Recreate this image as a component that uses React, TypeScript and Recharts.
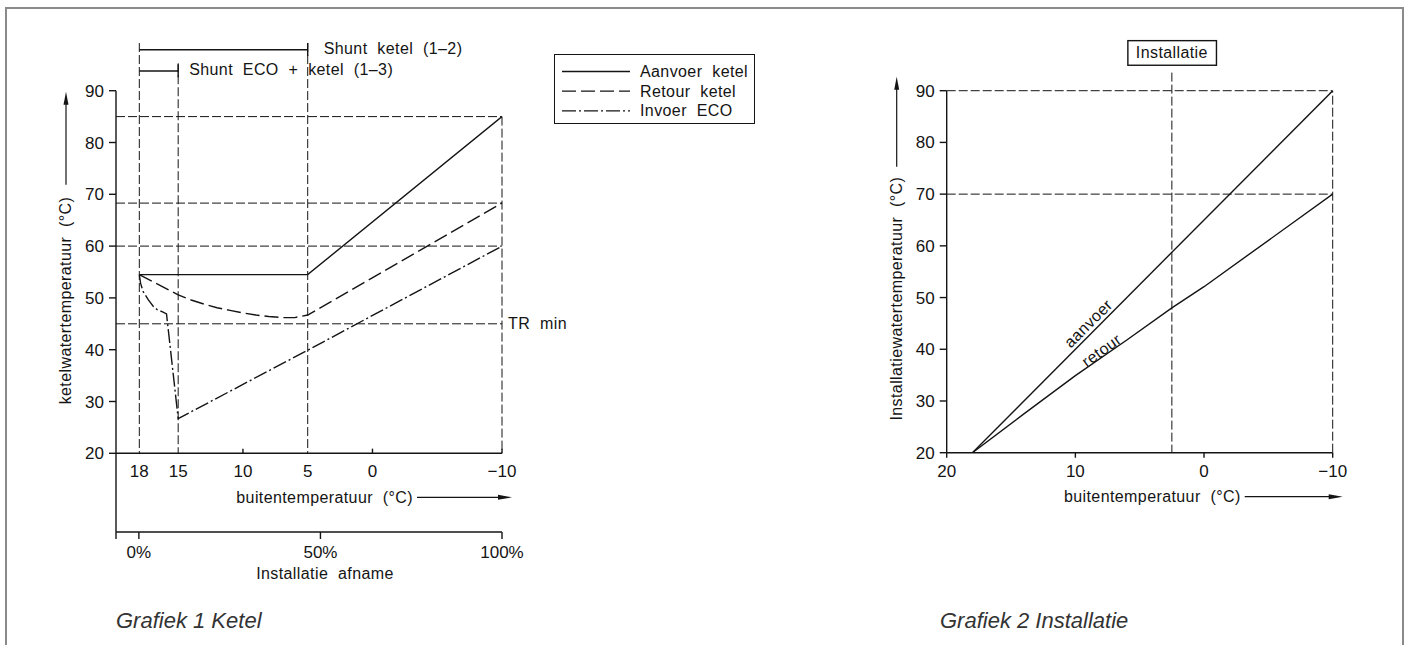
import React from 'react'
import { Legend, Line, LineChart, ReferenceDot, ReferenceLine, XAxis, YAxis } from 'recharts'

const FONT = '"Liberation Sans", Arial, sans-serif'
const INK = '#141414'
const DASH_REF = '9 3'
const DASH_RETOUR = '14 5'
const DASH_ECO = '14 3 2 3'

// ---- Grafiek 1: ketel ----
const KETEL_TEMP_TICKS = [18, 15, 10, 5, 0, -10]
const KETEL_TEMP_DOMAIN = [-10, 19.8]
const AFNAME_TICKS = [-6.3, 0, 50, 100]
const AFNAME_DOMAIN = [-6.3, 100]
const AFNAME_RANGE = [
  { p: 0, v: 20 },
  { p: 100, v: 20 },
]
const Y_TICKS = [20, 30, 40, 50, 60, 70, 80, 90]
const Y_DOMAIN = [20, 90]

const AANVOER_KETEL = [
  { t: 18, v: 54.5 },
  { t: 5, v: 54.5 },
  { t: -10, v: 85 },
]
const RETOUR_KETEL = [
  { t: 18, v: 54.5 },
  { t: 17, v: 53.2 },
  { t: 16, v: 51.9 },
  { t: 15, v: 50.6 },
  { t: 14, v: 49.6 },
  { t: 13, v: 48.8 },
  { t: 12, v: 48.1 },
  { t: 11, v: 47.6 },
  { t: 10, v: 47.1 },
  { t: 9, v: 46.7 },
  { t: 8, v: 46.4 },
  { t: 7, v: 46.2 },
  { t: 6, v: 46.2 },
  { t: 5, v: 46.7 },
  { t: -10, v: 68.3 },
]
const INVOER_ECO = [
  { t: 18, v: 54.5 },
  { t: 17.9, v: 52.8 },
  { t: 17.7, v: 51.2 },
  { t: 17.3, v: 49.6 },
  { t: 16.9, v: 48.3 },
  { t: 16.6, v: 47.7 },
  { t: 16.2, v: 47.3 },
  { t: 15.9, v: 46.9 },
  { t: 15, v: 26.7 },
  { t: 5, v: 39.9 },
  { t: -10, v: 60 },
]
const KETEL_LEVELS = [85, 68.3, 60]
const TR_MIN = 45
// vertical guides: temperature and the value where the dashed line starts
const KETEL_GUIDES = [
  { t: 18, top: 99.2 },
  { t: 15, top: 95.3 },
  { t: 5, top: 99.2 },
  { t: -10, top: 85 },
]
const SMALL_TICKS = [10, 0, -10]
const SHUNT_KETEL = { from: 18, to: 5, v: 97.9, label: 'Shunt ketel (1–2)' }
const SHUNT_ECO = { from: 18, to: 15, v: 93.8, label: 'Shunt ECO + ketel (1–3)' }
const AXIS_FLOOR = 4.8

const LEGEND_1 = [
  { name: 'Aanvoer ketel', dash: undefined },
  { name: 'Retour ketel', dash: DASH_RETOUR },
  { name: 'Invoer ECO', dash: DASH_ECO },
]

// ---- Grafiek 2: installatie ----
const INST_TEMP_TICKS = [20, 10, 0, -10]
const INST_TEMP_DOMAIN = [-10, 20]
const AANVOER_INST = [
  { t: 18, v: 20 },
  { t: -10, v: 90 },
]
const RETOUR_INST = [
  { t: 18, v: 20 },
  { t: 14, v: 27.5 },
  { t: 10, v: 34.9 },
  { t: 6, v: 41.8 },
  { t: 2.5, v: 48.0 },
  { t: 0, v: 52.1 },
  { t: -10, v: 70 },
]
const INST_LEVELS = [90, 70]
const INST_DESIGN = { t: 2.5, top: 93.5, box: 97.3, label: 'Installatie' }
const LINE_TAGS = [
  { t: 9.0, v: 45.0, angle: -45, text: 'aanvoer' },
  { t: 7.96, v: 39.8, angle: -35.7, text: 'retour' },
]

const fmtTemp = (v: number) => (v < 0 ? `−${-v}` : `${v}`)
const tickStyle = { fontSize: 17, fill: INK, fontFamily: FONT }
const textProps = { fill: INK, fontFamily: FONT, fontSize: 16, letterSpacing: 0.4, wordSpacing: 5 }

function xTitle(text: string, endFromRight: number, arrowPast: number) {
  return (props: any) => {
    const vb = props.viewBox || {}
    const right = vb.x + vb.width
    const y = vb.y + 44
    const tx = right - endFromRight
    const tip = right + arrowPast
    return (
      <g>
        <text x={tx} y={y} textAnchor="end" dominantBaseline="central" {...textProps}>
          {text}
        </text>
        <line x1={tx + 4} y1={y} x2={tip - 12} y2={y} stroke={INK} strokeWidth={1.2} />
        <polygon points={`${tip},${y} ${tip - 14},${y - 2.5} ${tip - 14},${y + 2.5}`} fill={INK} />
      </g>
    )
  }
}

function yTitle(text: string, tipDy: number, tailDy: number, gap: number) {
  return (props: any) => {
    const vb = props.viewBox || {}
    const x = vb.x + 10
    const tip = vb.y + tipDy
    const tail = vb.y + tailDy
    const ty = tail + gap
    return (
      <g>
        <line x1={x} y1={tail} x2={x} y2={tip + 10} stroke={INK} strokeWidth={1.2} />
        <polygon points={`${x},${tip} ${x - 2.5},${tip + 13} ${x + 2.5},${tip + 13}`} fill={INK} />
        <text
          x={x}
          y={ty}
          transform={`rotate(-90 ${x} ${ty})`}
          textAnchor="end"
          dominantBaseline="central"
          {...textProps}
        >
          {text}
        </text>
      </g>
    )
  }
}

function sideText(text: string, dx: number) {
  return (props: any) => {
    const vb = props.viewBox || {}
    return (
      <text x={vb.x + dx} y={vb.y} dominantBaseline="central" {...textProps}>
        {text}
      </text>
    )
  }
}

function KetelLegend() {
  return (
    <div style={{ width: 201, height: 70, border: `1.5px solid ${INK}`, boxSizing: 'border-box', background: '#fff' }}>
      <svg width={198} height={67} style={{ display: 'block' }}>
        {LEGEND_1.map((e, i) => {
          const y = 16.5 + i * 19.7
          return (
            <g key={e.name}>
              <line x1={7} x2={75} y1={y} y2={y} stroke={INK} strokeWidth={1.3} strokeDasharray={e.dash} />
              <text x={85} y={y} dominantBaseline="central" {...textProps}>
                {e.name}
              </text>
            </g>
          )
        })}
      </svg>
    </div>
  )
}

function KetelChart() {
  return (
    <LineChart width={780} height={645} margin={{ top: 90.7, right: 278, bottom: 53, left: 56 }}>
      <XAxis
        xAxisId="b"
        type="number"
        dataKey="p"
        domain={AFNAME_DOMAIN}
        allowDataOverflow
        ticks={AFNAME_TICKS}
        tickFormatter={(v: number) => (v < 0 ? '' : `${v}%`)}
        tick={tickStyle}
        tickLine={{ stroke: INK, strokeWidth: 1.4 }}
        tickSize={7}
        tickMargin={7}
        axisLine={{ stroke: INK, strokeWidth: 1.4 }}
        height={60}
        label={(props: any) => {
          const vb = props.viewBox || {}
          return (
            <text x={vb.x + 209} y={vb.y + 41} textAnchor="middle" dominantBaseline="central" {...textProps}>
              Installatie afname
            </text>
          )
        }}
      />
      <XAxis
        xAxisId="a"
        type="number"
        dataKey="t"
        domain={KETEL_TEMP_DOMAIN}
        reversed
        allowDataOverflow
        ticks={KETEL_TEMP_TICKS}
        tickFormatter={fmtTemp}
        tick={tickStyle}
        tickLine={false}
        tickSize={5}
        tickMargin={7}
        axisLine={{ stroke: INK, strokeWidth: 1.4 }}
        height={78.7}
        label={xTitle('buitentemperatuur (°C)', 89, 10)}
      />
      <YAxis
        type="number"
        domain={Y_DOMAIN}
        allowDataOverflow
        ticks={Y_TICKS}
        tick={tickStyle}
        tickLine={{ stroke: INK, strokeWidth: 1.4 }}
        tickSize={7}
        tickMargin={5}
        axisLine={{ stroke: INK, strokeWidth: 1.4 }}
        width={60}
        label={yTitle('ketelwatertemperatuur (°C)', 1, 94, 12)}
      />
      <Line
        xAxisId="b"
        data={AFNAME_RANGE}
        dataKey="v"
        stroke="transparent"
        strokeWidth={0}
        dot={false}
        legendType="none"
        isAnimationActive={false}
      />
      <ReferenceLine
        xAxisId="a"
        segment={[{ x: KETEL_TEMP_DOMAIN[1], y: 20 }, { x: KETEL_TEMP_DOMAIN[1], y: AXIS_FLOOR }]}
        ifOverflow="visible"
        stroke={INK}
        strokeWidth={1.4}
      />
      {KETEL_LEVELS.map((v) => (
        <ReferenceLine key={v} xAxisId="a" y={v} stroke={INK} strokeWidth={1} strokeDasharray={DASH_REF} />
      ))}
      <ReferenceLine
        xAxisId="a"
        y={TR_MIN}
        stroke={INK}
        strokeWidth={1}
        strokeDasharray={DASH_REF}
        label={{ value: 'TR min', position: 'right', offset: 6, ...textProps }}
      />
      {KETEL_GUIDES.map((g) => (
        <ReferenceLine
          key={g.t}
          xAxisId="a"
          segment={[{ x: g.t, y: g.top }, { x: g.t, y: 20 }]}
          ifOverflow="visible"
          stroke={INK}
          strokeWidth={1}
          strokeDasharray={DASH_REF}
        />
      ))}
      {SMALL_TICKS.map((t) => (
        <ReferenceLine
          key={`tk${t}`}
          xAxisId="a"
          segment={[{ x: t, y: 20 }, { x: t, y: 20.9 }]}
          ifOverflow="visible"
          stroke={INK}
          strokeWidth={1.4}
        />
      ))}
      {[SHUNT_KETEL, SHUNT_ECO].map((s) => (
        <ReferenceLine
          key={s.label}
          xAxisId="a"
          segment={[{ x: s.from, y: s.v }, { x: s.to, y: s.v }]}
          ifOverflow="visible"
          stroke={INK}
          strokeWidth={1.4}
        />
      ))}
      {[SHUNT_KETEL, SHUNT_ECO].map((s) => (
        <ReferenceLine
          key={`e${s.label}`}
          xAxisId="a"
          segment={[{ x: s.to, y: s.v + 1.3 }, { x: s.to, y: s.v - 1.2 }]}
          ifOverflow="visible"
          stroke={INK}
          strokeWidth={1.4}
        />
      ))}
      <ReferenceDot
        xAxisId="a"
        x={SHUNT_KETEL.to}
        y={SHUNT_KETEL.v + 0.3}
        r={0}
        fill="none"
        stroke="none"
        ifOverflow="visible"
        label={sideText(SHUNT_KETEL.label, 16)}
      />
      <ReferenceDot
        xAxisId="a"
        x={SHUNT_ECO.to}
        y={SHUNT_ECO.v + 0.3}
        r={0}
        fill="none"
        stroke="none"
        ifOverflow="visible"
        label={sideText(SHUNT_ECO.label, 11)}
      />
      <Line
        xAxisId="a"
        data={AANVOER_KETEL}
        dataKey="v"
        name="Aanvoer ketel"
        type="linear"
        stroke={INK}
        strokeWidth={1.4}
        dot={false}
        isAnimationActive={false}
      />
      <Line
        xAxisId="a"
        data={RETOUR_KETEL}
        dataKey="v"
        name="Retour ketel"
        type="linear"
        stroke={INK}
        strokeWidth={1.4}
        strokeDasharray={DASH_RETOUR}
        dot={false}
        isAnimationActive={false}
      />
      <Line
        xAxisId="a"
        data={INVOER_ECO}
        dataKey="v"
        name="Invoer ECO"
        type="linear"
        stroke={INK}
        strokeWidth={1.4}
        strokeDasharray={DASH_ECO}
        dot={false}
        isAnimationActive={false}
      />
      <Legend
        layout="vertical"
        align="center"
        verticalAlign="middle"
        wrapperStyle={{ left: 554, top: 54, width: 201, height: 70 }}
        content={() => <KetelLegend />}
      />
    </LineChart>
  )
}

function InstallatieChart() {
  return (
    <LineChart width={549} height={645} margin={{ top: 90.7, right: 76.3, bottom: 132.3, left: 26.7 }}>
      <XAxis
        type="number"
        dataKey="t"
        domain={INST_TEMP_DOMAIN}
        reversed
        allowDataOverflow
        ticks={INST_TEMP_TICKS}
        tickFormatter={fmtTemp}
        tick={tickStyle}
        tickLine={{ stroke: INK, strokeWidth: 1.4 }}
        tickSize={5}
        tickMargin={7}
        axisLine={{ stroke: INK, strokeWidth: 1.4 }}
        height={60}
        label={xTitle('buitentemperatuur (°C)', 92, 10)}
      />
      <YAxis
        type="number"
        domain={Y_DOMAIN}
        allowDataOverflow
        ticks={Y_TICKS}
        tick={tickStyle}
        tickLine={{ stroke: INK, strokeWidth: 1.4 }}
        tickSize={7}
        tickMargin={5}
        axisLine={{ stroke: INK, strokeWidth: 1.4 }}
        width={60}
        label={yTitle('Installatiewatertemperatuur (°C)', -14, 76, 10)}
      />
      {INST_LEVELS.map((v) => (
        <ReferenceLine key={v} y={v} stroke={INK} strokeWidth={1} strokeDasharray={DASH_REF} />
      ))}
      <ReferenceLine x={-10} stroke={INK} strokeWidth={1} strokeDasharray={DASH_REF} />
      <ReferenceLine
        segment={[{ x: INST_DESIGN.t, y: INST_DESIGN.top }, { x: INST_DESIGN.t, y: 20 }]}
        ifOverflow="visible"
        stroke={INK}
        strokeWidth={1}
        strokeDasharray={DASH_REF}
      />
      <ReferenceDot
        x={INST_DESIGN.t}
        y={INST_DESIGN.box}
        r={0}
        fill="none"
        stroke="none"
        ifOverflow="visible"
        label={(props: any) => {
          const vb = props.viewBox || {}
          const cx = vb.x + (vb.width || 0) / 2
          const cy = vb.y + (vb.height || 0) / 2
          return (
            <g>
              <rect x={cx - 44} y={cy - 12.3} width={88.6} height={24.6} fill="#fff" stroke={INK} strokeWidth={1.4} />
              <text x={cx} y={cy} textAnchor="middle" dominantBaseline="central" {...textProps}>
                {INST_DESIGN.label}
              </text>
            </g>
          )
        }}
      />
      <Line
        data={AANVOER_INST}
        dataKey="v"
        name="aanvoer"
        type="linear"
        stroke={INK}
        strokeWidth={1.4}
        dot={false}
        isAnimationActive={false}
      />
      <Line
        data={RETOUR_INST}
        dataKey="v"
        name="retour"
        type="linear"
        stroke={INK}
        strokeWidth={1.4}
        dot={false}
        isAnimationActive={false}
      />
      {LINE_TAGS.map((tag) => (
        <ReferenceDot
          key={tag.text}
          x={tag.t}
          y={tag.v}
          r={0}
          fill="none"
          stroke="none"
          ifOverflow="visible"
          label={(props: any) => {
            const vb = props.viewBox || {}
            const cx = vb.x + (vb.width || 0) / 2
            const cy = vb.y + (vb.height || 0) / 2
            return (
              <text
                x={cx}
                y={cy}
                transform={`rotate(${tag.angle} ${cx} ${cy})`}
                textAnchor="middle"
                dominantBaseline="central"
                {...textProps}
              >
                {tag.text}
              </text>
            )
          }}
        />
      ))}
    </LineChart>
  )
}

const captionStyle: React.CSSProperties = {
  position: 'absolute',
  top: 607,
  fontFamily: FONT,
  fontStyle: 'italic',
  fontSize: 22,
  color: '#333',
  whiteSpace: 'nowrap',
  lineHeight: '28px',
}

export default function App() {
  return (
    <div
      style={{
        position: 'absolute',
        left: 0,
        top: 0,
        width: 1409,
        height: 645,
        overflow: 'hidden',
        background: '#fff',
        fontFamily: FONT,
      }}
    >
      <div
        style={{
          position: 'absolute',
          left: 5,
          top: 7,
          width: 1399,
          height: 700,
          border: '2px solid #8a8a8a',
          boxSizing: 'border-box',
        }}
      />
      <div style={{ position: 'absolute', left: 0, top: 0 }}>
        <KetelChart />
      </div>
      <div style={{ position: 'absolute', left: 860, top: 0 }}>
        <InstallatieChart />
      </div>
      <div style={{ ...captionStyle, left: 116 }}>Grafiek 1 Ketel</div>
      <div style={{ ...captionStyle, left: 940 }}>Grafiek 2 Installatie</div>
    </div>
  )
}
